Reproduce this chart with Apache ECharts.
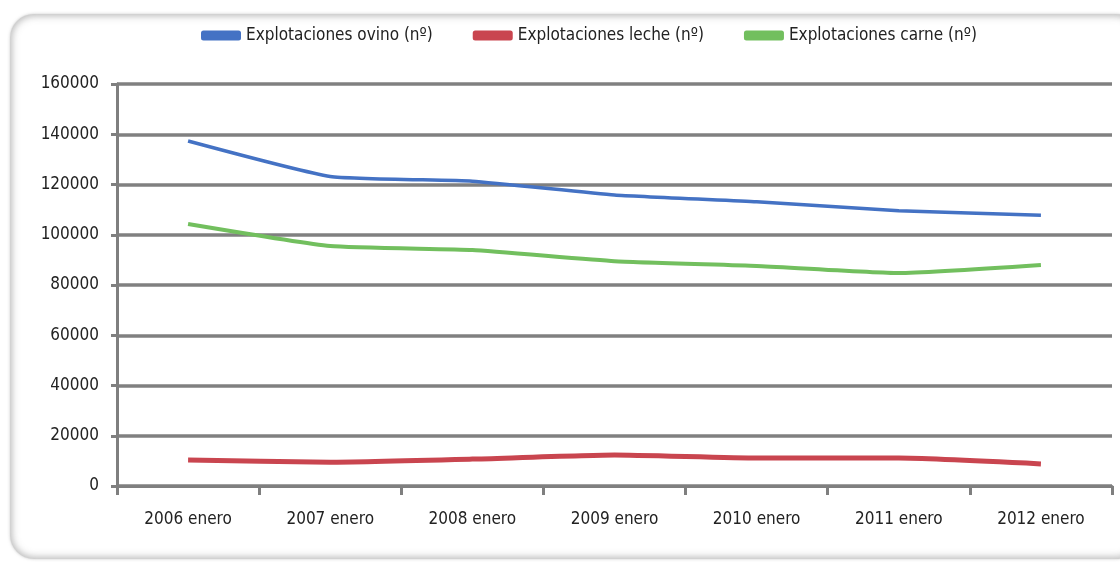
<!DOCTYPE html>
<html>
<head>
<meta charset="utf-8">
<script src="https://cdn.jsdelivr.net/npm/echarts@6/dist/echarts.min.js"></script>
<style>
  html, body { margin: 0; padding: 0; background: #ffffff; }
  #wrap { position: relative; width: 1120px; height: 568px; overflow: hidden; }
  #panel {
    position: absolute; left: 10px; top: 14px; width: 1130px; height: 545px;
    border-radius: 24px; background: #ffffff;
    box-shadow: inset 0 0 7px 2px rgba(120,120,120,0.5), 0 0 3px rgba(150,150,150,0.5);
  }
  #chart { position: absolute; left: 0; top: 0; width: 1120px; height: 568px; }
</style>
</head>
<body>
<div id="wrap">
  <div id="panel"></div>
  <div id="chart"></div>
</div>
<script>
// Categories and series values (number of farms)
const categories = ['2006 enero', '2007 enero', '2008 enero', '2009 enero', '2010 enero', '2011 enero', '2012 enero'];
const ovino = [137300, 123200, 121300, 115800, 113100, 109600, 107800];
const leche = [10300, 9500, 10700, 12300, 11100, 11100, 8800];
const carne = [104300, 95500, 93900, 89500, 87600, 84800, 88000];
const seriesNames = ['Explotaciones ovino (n\u00ba)', 'Explotaciones leche (n\u00ba)', 'Explotaciones carne (n\u00ba)'];
const colors = ['#4472c4', '#c9454f', '#72bf5e'];

const font = '"Liberation Sans Narrow", "DejaVu Sans Condensed", "Liberation Sans", sans-serif';
const chart = echarts.init(document.getElementById('chart'), null, { renderer: 'canvas' });

const makeSeries = (name, data, color, width) => ({
  name, type: 'line', data, smooth: 0.15, symbol: 'none',
  lineStyle: { color, width }, itemStyle: { color }
});

chart.setOption({
  animation: false,
  color: colors,
  legend: {
    top: 22, left: 196, itemGap: 40, itemWidth: 40, itemHeight: 10,
    icon: 'roundRect',
    textStyle: { fontFamily: font, fontSize: 17, color: '#222' },
    data: seriesNames
  },
  grid: { left: 117, right: 8, top: 84, bottom: 82 },
  xAxis: {
    type: 'category', data: categories, boundaryGap: true,
    axisLine: { lineStyle: { color: '#7f7f7f', width: 3 } },
    axisTick: { show: true, length: 9, lineStyle: { color: '#7f7f7f', width: 3 } },
    axisLabel: { fontFamily: font, fontSize: 17, color: '#222', margin: 25 }
  },
  yAxis: {
    type: 'value', min: 0, max: 160000, interval: 20000,
    axisLine: { show: true, lineStyle: { color: '#7f7f7f', width: 3 } },
    axisTick: { show: true, length: 6, lineStyle: { color: '#7f7f7f', width: 3 } },
    splitLine: { lineStyle: { color: '#808080', width: 3.5 } },
    axisLabel: { fontFamily: font, fontSize: 17, color: '#222', margin: 18, formatter: v => String(v) }
  },
  series: [
    makeSeries(seriesNames[0], ovino, colors[0], 3.5),
    makeSeries(seriesNames[1], leche, colors[1], 5),
    makeSeries(seriesNames[2], carne, colors[2], 4)
  ]
});
</script>
</body>
</html>
